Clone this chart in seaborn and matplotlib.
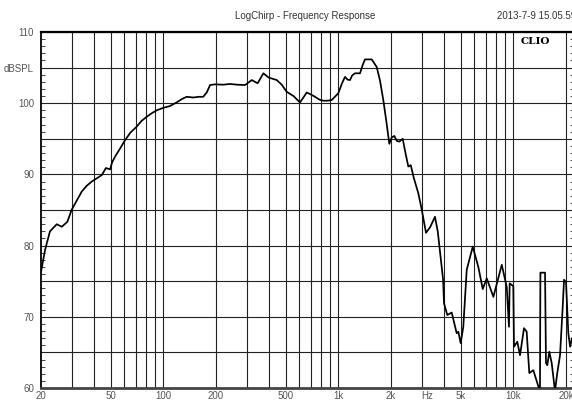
import numpy as np
import pandas as pd
import seaborn as sns
import matplotlib.pyplot as plt
from matplotlib.ticker import FixedLocator, NullFormatter

sns.set_style("white")
plt.rcParams['font.family'] = ['Liberation Sans', 'DejaVu Sans']

# frequency response
freq = [20, 21.1, 22.5, 24.6, 26.3, 28.3, 29.9, 32, 34.2, 36.5, 39, 42, 44.5, 47, 49.6,
        51, 53, 56.5, 60.4, 65, 70.4, 75, 80.4, 86, 91.7, 100, 109, 119, 128, 136,
        148, 160, 169, 177, 185, 197, 220, 240, 265, 293, 320, 346, 373, 400, 445,
        475, 507, 555, 604, 660, 700, 736, 780, 821, 870, 917, 1000, 1050, 1092, 1130,
        1166, 1200, 1245, 1330, 1380, 1420, 1552, 1656, 1730, 1807, 1880, 1956, 2020, 2090,
        2160, 2230, 2333, 2420, 2512, 2594, 2700, 2865, 3000, 3170, 3350, 3566, 3700,
        3810, 3970, 4017, 4196, 4446, 4746, 4850, 5003, 5178, 5417, 5862, 6310, 6687,
        7050, 7692, 8590, 9170, 9445, 9530, 10000, 10090, 10540, 10920, 11510, 11920,
        12340, 13010, 14200, 14280, 15180, 15370, 15640, 16060, 16570, 17300, 17830,
        18490, 19150, 19490, 20000, 20620, 21100, 21650]
spl = [76.3, 79.4, 82.0, 83.0, 82.65, 83.35, 85.0, 86.3, 87.6, 88.4, 89.0, 89.5, 89.9, 90.9, 90.7,
       91.7, 92.5, 93.6, 94.8, 95.9, 96.7, 97.5, 98.1, 98.6, 99.0, 99.35, 99.6, 100.1, 100.6, 100.9,
       100.8, 100.9, 100.9, 101.5, 102.55, 102.65, 102.6, 102.7, 102.6, 102.55, 103.25, 102.8, 104.2, 103.6, 103.25,
       102.6, 101.6, 101.0, 100.1, 101.5, 101.2, 100.9, 100.5, 100.35, 100.35, 100.45, 101.4, 102.8, 103.7, 103.3,
       103.25, 103.9, 104.2, 104.2, 105.4, 106.15, 106.15, 105.1, 103.2, 100.45, 97.5, 94.3, 95.2, 95.4,
       94.7, 94.6, 95.0, 93.0, 91.1, 91.3, 89.5, 87.35, 85.0, 81.8, 82.6, 84.05, 82.0,
       79.15, 75.2, 71.9, 70.25, 70.6, 67.7, 67.9, 66.3, 68.6, 76.6, 79.85, 77.0, 73.9,
       75.4, 72.8, 77.3, 74.2, 68.6, 74.7, 74.3, 65.8, 66.5, 64.6, 68.4, 67.9,
       62.1, 62.5, 59.5, 76.2, 76.2, 63.5, 63.2, 65.1, 63.5, 59.6, 62.1,
       64.6, 71.4, 75.2, 74.9, 67.7, 65.8, 67.0]

grid_freqs = [30, 40, 50, 60, 70, 80, 90, 100, 200, 300, 400, 500, 600, 700, 800, 900,
              1000, 2000, 3000, 4000, 5000, 6000, 7000, 8000, 9000, 10000, 20000]
xtick_pos = [20, 50, 100, 200, 500, 1000, 2000, 3200, 5000, 10000, 20000]
xtick_lbl = ['20', '50', '100', '200', '500', '1k', '2k', 'Hz', '5k', '10k', '20k']
ytick_pos = [60, 65, 70, 75, 80, 85, 90, 95, 100, 105, 110]
ytick_lbl = ['60', '', '70', '', '80', '', '90', '', '100', 'dBSPL', '110']

df = pd.DataFrame({'freq': freq, 'spl': spl})

fig = plt.figure(figsize=(5.72, 4.0), dpi=100)
ax = fig.add_axes([41 / 572, 12 / 400, 533 / 572, 356 / 400])
ax.set_xscale('log')
sns.lineplot(data=df, x='freq', y='spl', ax=ax, color='black', lw=1.25,
             estimator=None, sort=False, zorder=3)

ax.set_xlim(20, 20 * 10 ** (533 / 175))
ax.set_ylim(60, 110)

# grid lines sit on minor ticks; keep those that coincide with labelled ones
ax.xaxis.remove_overlapping_locs = False
ax.xaxis.set_major_locator(FixedLocator(xtick_pos))
ax.set_xticklabels(xtick_lbl)
ax.xaxis.set_minor_locator(FixedLocator(grid_freqs))
ax.xaxis.set_minor_formatter(NullFormatter())
ax.tick_params(axis='x', which='both', length=0, pad=2, labelsize=7, labelcolor='#555555')
ax.grid(True, axis='x', which='minor', color='#222222', lw=0.8)

ax.set_yticks(ytick_pos)
ax.set_yticklabels(ytick_lbl)
ax.set_yticks(np.arange(60, 111, 1), minor=True)
ax.tick_params(axis='y', which='major', length=0, pad=5, labelsize=7, labelcolor='#555555')
ax.tick_params(axis='y', which='minor', direction='in', length=3, width=0.7,
               color='#444444', left=True, right=True)
ax.grid(True, axis='y', which='major', color='#222222', lw=0.8)

ax.set_xlabel('')
ax.set_ylabel('')
for side, w, c in [('top', 1.6, 'black'), ('bottom', 2.0, '#444444'),
                   ('left', 1.3, 'black'), ('right', 1.3, 'black')]:
    ax.spines[side].set_linewidth(w)
    ax.spines[side].set_color(c)

fig.text(305 / 572, 1 - 16 / 400, 'LogChirp - Frequency Response', ha='center', va='center',
         fontsize=7, color='#333333')
fig.text(497 / 572, 1 - 16 / 400, '2013-7-9 15.05.59', ha='left', va='center',
         fontsize=7, color='#333333')
fig.text(521 / 572, 1 - 41 / 400, 'CLIO', ha='left', va='center', fontsize=7.5,
         fontweight='bold', family=['DejaVu Serif'], color='black')

fig.savefig('out.png', dpi=100)
